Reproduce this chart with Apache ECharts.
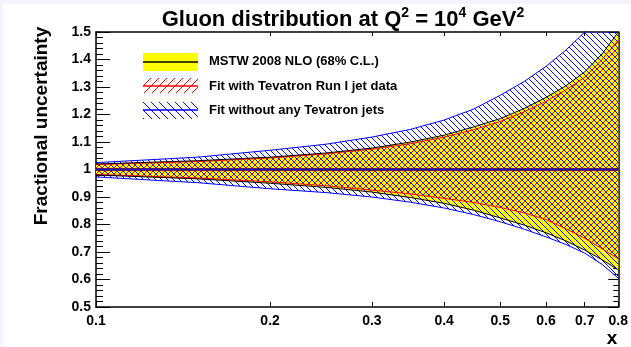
<!DOCTYPE html>
<html>
<head>
<meta charset="utf-8">
<script src="https://cdn.jsdelivr.net/npm/echarts@6/dist/echarts.min.js"></script>
<style>
  html, body { margin: 0; padding: 0; background: #ffffff; }
  #main { width: 631px; height: 347px; }
</style>
</head>
<body>
<div id="main"></div>
<script>
// Momentum fraction x at which the uncertainty bands are sampled
const xValues = [0.1, 0.15, 0.2, 0.25, 0.3, 0.35, 0.4, 0.45, 0.5, 0.55, 0.6, 0.65, 0.7, 0.75, 0.8];

// MSTW 2008 NLO, 68% C.L. band
const mstwUpper = [1.020, 1.032, 1.045, 1.060, 1.078, 1.100, 1.125, 1.155, 1.185, 1.222, 1.262, 1.305, 1.355, 1.420, 1.500];
const mstwLower = [0.980, 0.966, 0.950, 0.935, 0.918, 0.898, 0.877, 0.852, 0.824, 0.798, 0.770, 0.740, 0.707, 0.672, 0.635];

// Fit with Tevatron Run I jet data
const runIUpper = [1.018, 1.029, 1.042, 1.057, 1.074, 1.094, 1.118, 1.145, 1.175, 1.210, 1.248, 1.290, 1.335, 1.400, 1.470];
const runILower = [0.982, 0.969, 0.955, 0.941, 0.925, 0.911, 0.895, 0.880, 0.862, 0.842, 0.818, 0.784, 0.750, 0.712, 0.675];

// Fit without any Tevatron jets
const noJetsUpper = [1.025, 1.045, 1.070, 1.092, 1.118, 1.146, 1.180, 1.220, 1.270, 1.320, 1.375, 1.435, 1.500, 1.575, 1.650];
const noJetsLower = [0.973, 0.952, 0.930, 0.916, 0.900, 0.881, 0.860, 0.836, 0.810, 0.783, 0.755, 0.727, 0.696, 0.655, 0.605];

// Ratio to the central fit
const centralRatio = [1, 1, 1, 1, 1, 1, 1, 1, 1, 1, 1, 1, 1, 1, 1];

// Axis tick positions
const xTickValues = [0.1, 0.2, 0.3, 0.4, 0.5, 0.6, 0.7, 0.8];

const FONT = '"Liberation Sans", Arial, Helvetica, sans-serif';

// Pixel-exact 45 degree hatch tile (no antialiasing)
function hatchCanvas(color, slope, size) {
  const c = document.createElement('canvas');
  c.width = size; c.height = size;
  const g = c.getContext('2d');
  g.fillStyle = color;
  for (let i = 0; i < size; i++) {
    const y = slope > 0 ? size - 1 - i : i;
    g.fillRect(i, y, 1, 1);
  }
  return c;
}

const redHatch = { image: hatchCanvas('#ff0000', 1, 6), repeat: 'repeat' };
const blueHatch = { image: hatchCanvas('#0000ff', -1, 6), repeat: 'repeat' };
const redHatchKey = { image: hatchCanvas('#ff0000', 1, 8), repeat: 'repeat' };
const blueHatchKey = { image: hatchCanvas('#0000ff', -1, 8), repeat: 'repeat' };
const YELLOW = '#ffff00';

function bandSeries(name, lower, upper, fill, z) {
  return {
    type: 'custom',
    name: name,
    clip: true,
    z: z,
    silent: true,
    data: [[xValues[0], centralRatio[0]]],
    renderItem: function (params, api) {
      const pts = [];
      for (let i = 0; i < xValues.length; i++) pts.push(api.coord([xValues[i], upper[i]]));
      for (let i = xValues.length - 1; i >= 0; i--) pts.push(api.coord([xValues[i], lower[i]]));
      return { type: 'polygon', shape: { points: pts }, style: { fill: fill, stroke: null } };
    }
  };
}

function lineSeries(values, color, width, z) {
  return {
    type: 'line',
    data: xValues.map((x, i) => [x, values[i]]),
    showSymbol: false,
    symbol: 'none',
    clip: true,
    silent: true,
    z: z,
    lineStyle: { color: color, width: width },
    animation: false
  };
}

const chart = echarts.init(document.getElementById('main'), null, { renderer: 'canvas' });

const axisLineStyle = { show: true, lineStyle: { color: '#000', width: 1.5 } };

const option = {
  animation: false,
  backgroundColor: '#ffffff',
  grid: { left: 96, right: 10, top: 32, bottom: 40, containLabel: false },
  xAxis: [
    {
      type: 'log', logBase: 10, min: 0.1, max: 0.8, position: 'bottom',
      axisLine: axisLineStyle,
      axisTick: { show: true, inside: true, length: 5, customValues: xTickValues, lineStyle: { color: '#000', width: 1 } },
      axisLabel: {
        show: true, customValues: xTickValues, margin: 7,
        color: '#000', fontFamily: FONT, fontWeight: 'bold', fontSize: 14,
        formatter: function (v) { return String(Math.round(v * 10) / 10); }
      },
      splitLine: { show: false }, minorTick: { show: false }
    },
    {
      type: 'log', logBase: 10, min: 0.1, max: 0.8, position: 'top',
      axisLine: axisLineStyle,
      axisTick: { show: true, inside: true, length: 4, customValues: xTickValues, lineStyle: { color: '#000', width: 1 } },
      axisLabel: { show: false },
      splitLine: { show: false }
    }
  ],
  yAxis: [
    {
      type: 'value', min: 0.5, max: 1.5, interval: 0.1, position: 'left',
      axisLine: axisLineStyle,
      axisTick: { show: true, inside: true, length: 14, lineStyle: { color: '#000', width: 1 } },
      minorTick: { show: true, splitNumber: 5, length: 7, lineStyle: { color: '#000', width: 1 } },
      axisLabel: {
        color: '#000', fontFamily: FONT, fontWeight: 'bold', fontSize: 14, margin: 5,
        formatter: function (v) { return String(Math.round(v * 10) / 10); }
      },
      splitLine: { show: false }
    },
    {
      type: 'value', min: 0.5, max: 1.5, interval: 0.1, position: 'right',
      axisLine: axisLineStyle,
      axisTick: { show: true, inside: true, length: 10, lineStyle: { color: '#000', width: 1 } },
      minorTick: { show: true, splitNumber: 5, length: 5, lineStyle: { color: '#000', width: 1 } },
      axisLabel: { show: false },
      splitLine: { show: false }
    }
  ],
  series: [
    bandSeries('MSTW 2008 NLO (68% C.L.)', mstwLower, mstwUpper, YELLOW, 1),
    bandSeries('Fit with Tevatron Run I jet data', runILower, runIUpper, redHatch, 2),
    bandSeries('Fit without any Tevatron jets', noJetsLower, noJetsUpper, blueHatch, 3),
    lineSeries(noJetsUpper, '#0000ff', 1, 4),
    lineSeries(noJetsLower, '#0000ff', 1, 4),
    lineSeries(runIUpper, '#ff0000', 1, 5),
    lineSeries(runILower, '#ff0000', 1, 5),
    lineSeries(mstwUpper, '#000000', 1, 6),
    lineSeries(mstwLower, '#000000', 1, 6),
    lineSeries(centralRatio, '#000000', 2.5, 7),
    lineSeries(centralRatio, '#ff0000', 2, 7),
    lineSeries(centralRatio, '#1414b4', 2, 7)
  ],
  graphic: {
    elements: [
      // page margin tint
      { type: 'rect', left: 0, top: 0, z: 0, shape: { width: 631, height: 4 }, style: { fill: '#f5f3fd' }, silent: true },
      { type: 'rect', left: 0, top: 0, z: 0, shape: { width: 3, height: 347 }, style: { fill: '#f5f3fd' }, silent: true },
      // title
      {
        type: 'text', x: 343, y: 20, z: 10,
        style: {
          text: 'Gluon distribution at Q{sup|2} = 10{sup|4} GeV{sup|2}',
          align: 'center', verticalAlign: 'middle',
          fontFamily: FONT, fontWeight: 'bold', fontSize: 22, fill: '#000',
          rich: {
            sup: { fontFamily: FONT, fontWeight: 'bold', fontSize: 14, verticalAlign: 'top', lineHeight: 27, fill: '#000' }
          }
        }
      },
      // y axis title
      {
        type: 'text', x: 42, y: 126, rotation: Math.PI / 2, z: 10,
        style: {
          text: 'Fractional uncertainty', align: 'center', verticalAlign: 'middle',
          fontFamily: '"Liberation Sans Narrow", "Liberation Sans", Arial, sans-serif',
          fontWeight: 'bold', fontSize: 19, fill: '#000'
        }
      },
      // x axis title
      {
        type: 'text', x: 612, y: 339, z: 10,
        style: { text: 'x', align: 'center', verticalAlign: 'middle', fontFamily: FONT, fontWeight: 'bold', fontSize: 19, fill: '#000' }
      },
      // legend swatches
      { type: 'rect', left: 143, top: 53, z: 10, shape: { width: 55, height: 18 }, style: { fill: YELLOW } },
      { type: 'line', z: 11, shape: { x1: 143, y1: 62, x2: 198, y2: 62 }, style: { stroke: '#000', lineWidth: 1.5 } },
      { type: 'rect', left: 143, top: 78, z: 10, shape: { width: 55, height: 15 }, style: { fill: redHatchKey } },
      { type: 'line', z: 11, shape: { x1: 143, y1: 86, x2: 198, y2: 86 }, style: { stroke: '#ff0000', lineWidth: 1.5 } },
      { type: 'rect', left: 143, top: 102, z: 10, shape: { width: 55, height: 17 }, style: { fill: blueHatchKey } },
      { type: 'line', z: 11, shape: { x1: 143, y1: 110, x2: 198, y2: 110 }, style: { stroke: '#0000ff', lineWidth: 1.5 } },
      // legend labels
      { type: 'text', x: 209, y: 61, z: 10, style: { text: 'MSTW 2008 NLO (68% C.L.)', verticalAlign: 'middle', fontFamily: FONT, fontWeight: 'bold', fontSize: 13, fill: '#000' } },
      { type: 'text', x: 209, y: 86, z: 10, style: { text: 'Fit with Tevatron Run I jet data', verticalAlign: 'middle', fontFamily: FONT, fontWeight: 'bold', fontSize: 13, fill: '#000' } },
      { type: 'text', x: 209, y: 110, z: 10, style: { text: 'Fit without any Tevatron jets', verticalAlign: 'middle', fontFamily: FONT, fontWeight: 'bold', fontSize: 13, fill: '#000' } }
    ]
  }
};

chart.setOption(option);
</script>
</body>
</html>
